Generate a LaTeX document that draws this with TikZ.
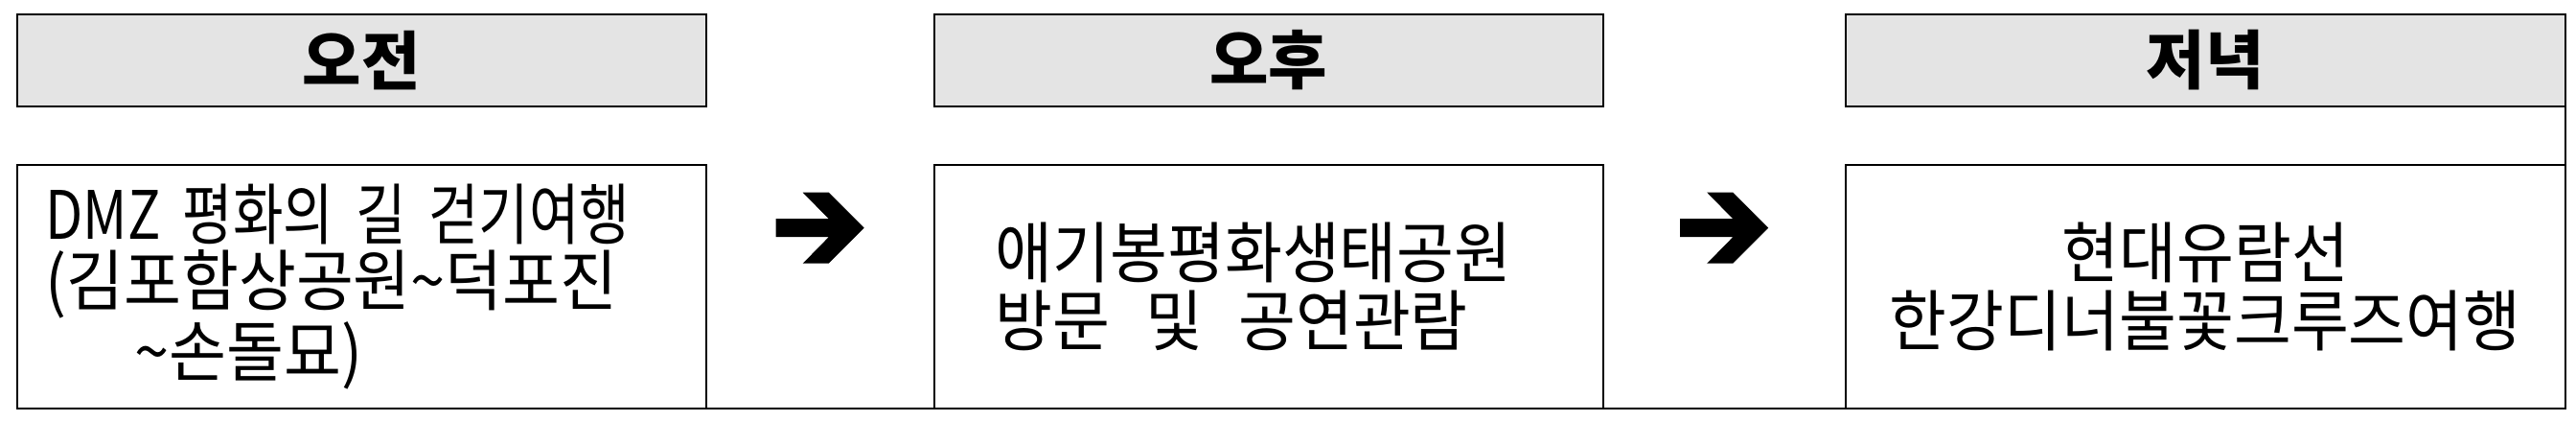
\documentclass[tikz,border=0pt]{standalone}
\usepackage{fontspec}
\setmainfont{Noto Sans CJK KR}
\newfontfamily\stretto[FakeStretch=0.82]{Noto Sans CJK KR}
\newfontfamily\largo[FakeStretch=0.935]{Noto Sans CJK KR}
\usetikzlibrary{positioning,calc}
\definecolor{grigio}{RGB}{228,228,228}
\tikzset{
node distance=2.4cm,
testata/.style={draw,line width=0.6pt,fill=grigio,outer sep=0pt,inner sep=0pt,
  minimum height=0.96cm,font=\fontsize{19}{20}\selectfont\bfseries},
riquadro/.style={draw,line width=0.6pt,outer sep=0pt,inner ysep=0pt,
  minimum height=2.54cm,font=\largo\fontsize{19.8}{20}\selectfont},
bordo/.style={line width=0.6pt},
pics/freccia/.style={code={
  \fill (-0.46,0.095) -- (0.09,0.095) -- (-0.18,0.37) -- (0.09,0.37) -- (0.46,0)
    -- (0.09,-0.37) -- (-0.18,-0.37) -- (0.09,-0.095) -- (-0.46,-0.095) -- cycle;}}}

\begin{document}
\begin{tikzpicture}

\useasboundingbox (0,0) rectangle (26.88,-4.38);

\node[testata,minimum width=7.19cm] (h1) at (3.772,-0.63) {오전};
\node[testata,minimum width=6.98cm,right=2.38cm of h1] (h2) {오후};
\node[testata,minimum width=7.51cm,right=2.53cm of h2] (h3) {저녁};

\node[riquadro,below=0.61cm of h1,text width=6.59cm,inner xsep=0.3cm,align=left,
  font=\largo\fontsize{19.8}{19.6}\selectfont] (c1)
  {{\stretto DMZ 평화의 길 걷기여행}\\(김포함상공원\textasciitilde 덕포진\\\hspace*{0.93cm}\textasciitilde 손돌묘)};
\node[riquadro,below=0.61cm of h2,text width=5.70cm,inner xsep=0.64cm,align=left] (c2)
  {애기봉평화생태공원\\방문\hspace{0.37cm}및\hspace{0.37cm}공연관람};
\node[riquadro,below=0.61cm of h3,minimum width=7.51cm,align=center] (c3)
  {현대유람선\\한강디너불꽃크루즈여행};

% lato destro e linea di fondo
\draw[bordo] (h3.south east) -- (c3.north east);
\draw[bordo]
	(c1.south east) -- (c2.south west)
	(c2.south east) -- (c3.south west);

% frecce tra i riquadri
\coordinate (a1) at ($(c1.north east)!0.5!(c2.north west)+(0,-0.657)$);
\coordinate (a2) at ($(c2.north east)!0.5!(c3.north west)+(0,-0.657)$);
\pic at (a1) {freccia};
\pic at (a2) {freccia};
\end{tikzpicture}
\end{document}
